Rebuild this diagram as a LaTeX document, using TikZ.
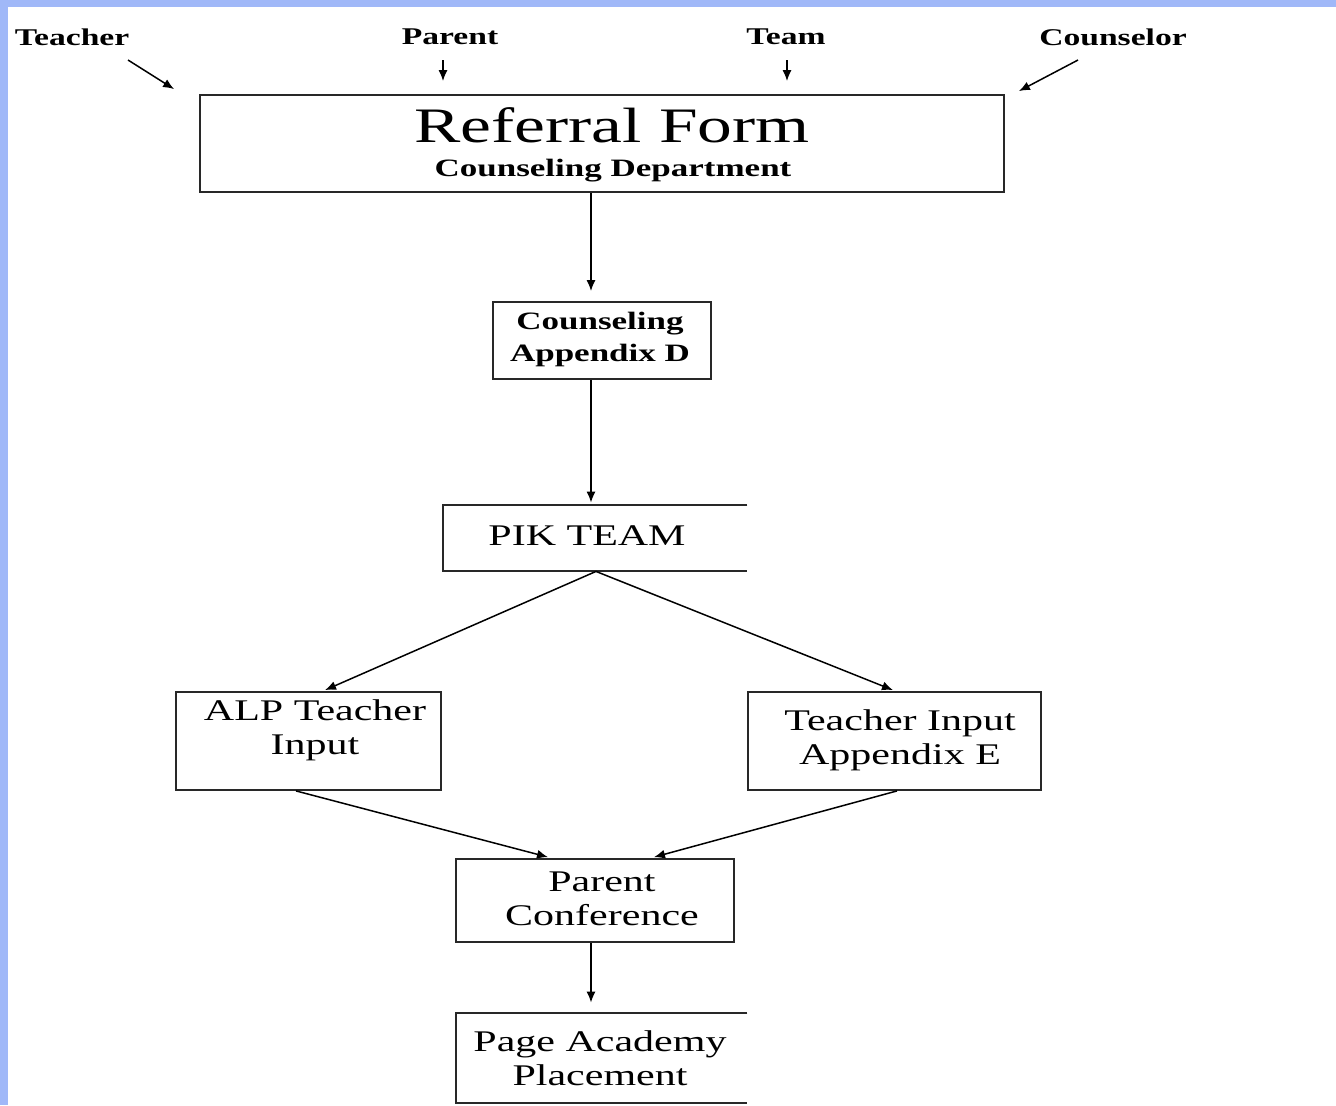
\documentclass[tikz,border=0pt]{standalone}
\usepackage{fontspec}
\setmainfont{Liberation Serif}[FakeStretch=1.4]
\usetikzlibrary{arrows.meta}

\definecolor{bandblue}{RGB}{160,184,248}
\definecolor{boxline}{RGB}{40,40,40}

\tikzset{
  box/.style={draw=boxline, line width=0.9pt, inner sep=0pt},
  openbox/.style={inner sep=0pt},
  openline/.style={draw=boxline, line width=1pt},
  boxtext/.style={align=center, inner sep=0pt, font=\fontsize{15}{17}\selectfont},
  smalltext/.style={align=center, inner sep=0pt, font=\bfseries\fontsize{12.5}{16}\selectfont},
  source/.style={inner sep=0pt, font=\bfseries\fontsize{12}{14}\selectfont},
  flow/.style={draw=black, line width=0.75pt, -{Latex[length=5.5pt,width=4.5pt]}},
}

\begin{document}
\begin{tikzpicture}[x=0.5pt,y=-0.5pt]
	\fill[white] (0,0) rectangle (1336,1105);
	\fill[bandblue] (0,0) rectangle (1336,7);
	\fill[bandblue] (0,0) rectangle (8,1105);
	\useasboundingbox (0,0) rectangle (1336,1105);

	% who sends the referral
	\node[source] (teacher) at (72,37) {Teacher};
	\node[source] (parent) at (450,37) {Parent};
	\node[source] (team) at (786,37) {Team};
	\node[source] (counselor) at (1113,37) {Counselor};

	% boxes
	\node[box, minimum width=402pt, minimum height=48.5pt] (refform) at (602,143.5) {};
	\node[inner sep=0pt, font=\fontsize{24.8}{28}\selectfont] (refform-title) at (612,125) {Referral Form};
	\node[smalltext] (refform-sub) at (613,171) {Counseling Department};

	\node[box, minimum width=109pt, minimum height=38.5pt] (cnsl) at (602,340.5) {};
	\node[smalltext] (cnsl-txt) at (600,339) {Counseling\\Appendix D};

	\node[openbox, minimum width=152pt, minimum height=33pt] (pik) at (595,538) {};
	\draw[openline] (pik.north east) -- (pik.north west) -- (pik.south west) -- (pik.south east);
	\node[boxtext] (pik-txt) at (587,536) {PIK TEAM};

	\node[box, minimum width=132.5pt, minimum height=49pt] (alp) at (308.5,741) {};
	\node[boxtext] (alp-txt) at (315,730) {ALP Teacher\\Input};

	\node[box, minimum width=146.5pt, minimum height=49pt] (ti) at (894.5,741) {};
	\node[boxtext] (ti-txt) at (900,740) {Teacher Input\\Appendix E};

	\node[box, minimum width=139pt, minimum height=41.5pt] (pconf) at (595,900.5) {};
	\node[boxtext] (pconf-txt) at (602,899) {Parent\\Conference};

	\node[openbox, minimum width=145.5pt, minimum height=45pt] (page) at (601.5,1058) {};
	\draw[openline] (page.north east) -- (page.north west) -- (page.south west) -- (page.south east);
	\node[boxtext] (page-txt) at (600,1058) {Page Academy\\Placement};

	% arrows into the form
	\draw[flow] ([shift={(28pt,-11.5pt)}]teacher.center) -- ([shift={(-12.5pt,2.5pt)}]refform.north west);
	\draw[flow] ([shift={(-3.5pt,-11.5pt)}]parent.center) -- ([shift={(-79.5pt,6.5pt)}]refform.north);
	\draw[flow] ([shift={(0.5pt,-11.5pt)}]team.center) -- ([shift={(92.5pt,6.5pt)}]refform.north);
	\draw[flow] ([shift={(-17.5pt,-11.5pt)}]counselor.center) -- ([shift={(7pt,1.5pt)}]refform.north east);

	% flow down
	\draw[flow] ([xshift=-5.5pt]refform.south) -- ([xshift=-5.5pt,yshift=5pt]cnsl.north);
	\draw[flow] ([xshift=-5.5pt]cnsl.south) -- ([xshift=-2pt,yshift=1pt]pik.north);
	\draw[flow] ([xshift=0.5pt]pik.south) -- ([xshift=8.25pt,yshift=0.5pt]alp.north);
	\draw[flow] ([xshift=0.5pt]pik.south) -- ([xshift=-0.75pt,yshift=0.5pt]ti.north);
	\draw[flow] ([xshift=-6.25pt]alp.south) -- ([xshift=-23.5pt,yshift=0.5pt]pconf.north);
	\draw[flow] ([xshift=1.25pt]ti.south) -- ([xshift=29.5pt,yshift=0.5pt]pconf.north);
	\draw[flow] ([xshift=-2pt]pconf.south) -- ([xshift=-5.25pt,yshift=5pt]page.north);
\end{tikzpicture}
\end{document}
